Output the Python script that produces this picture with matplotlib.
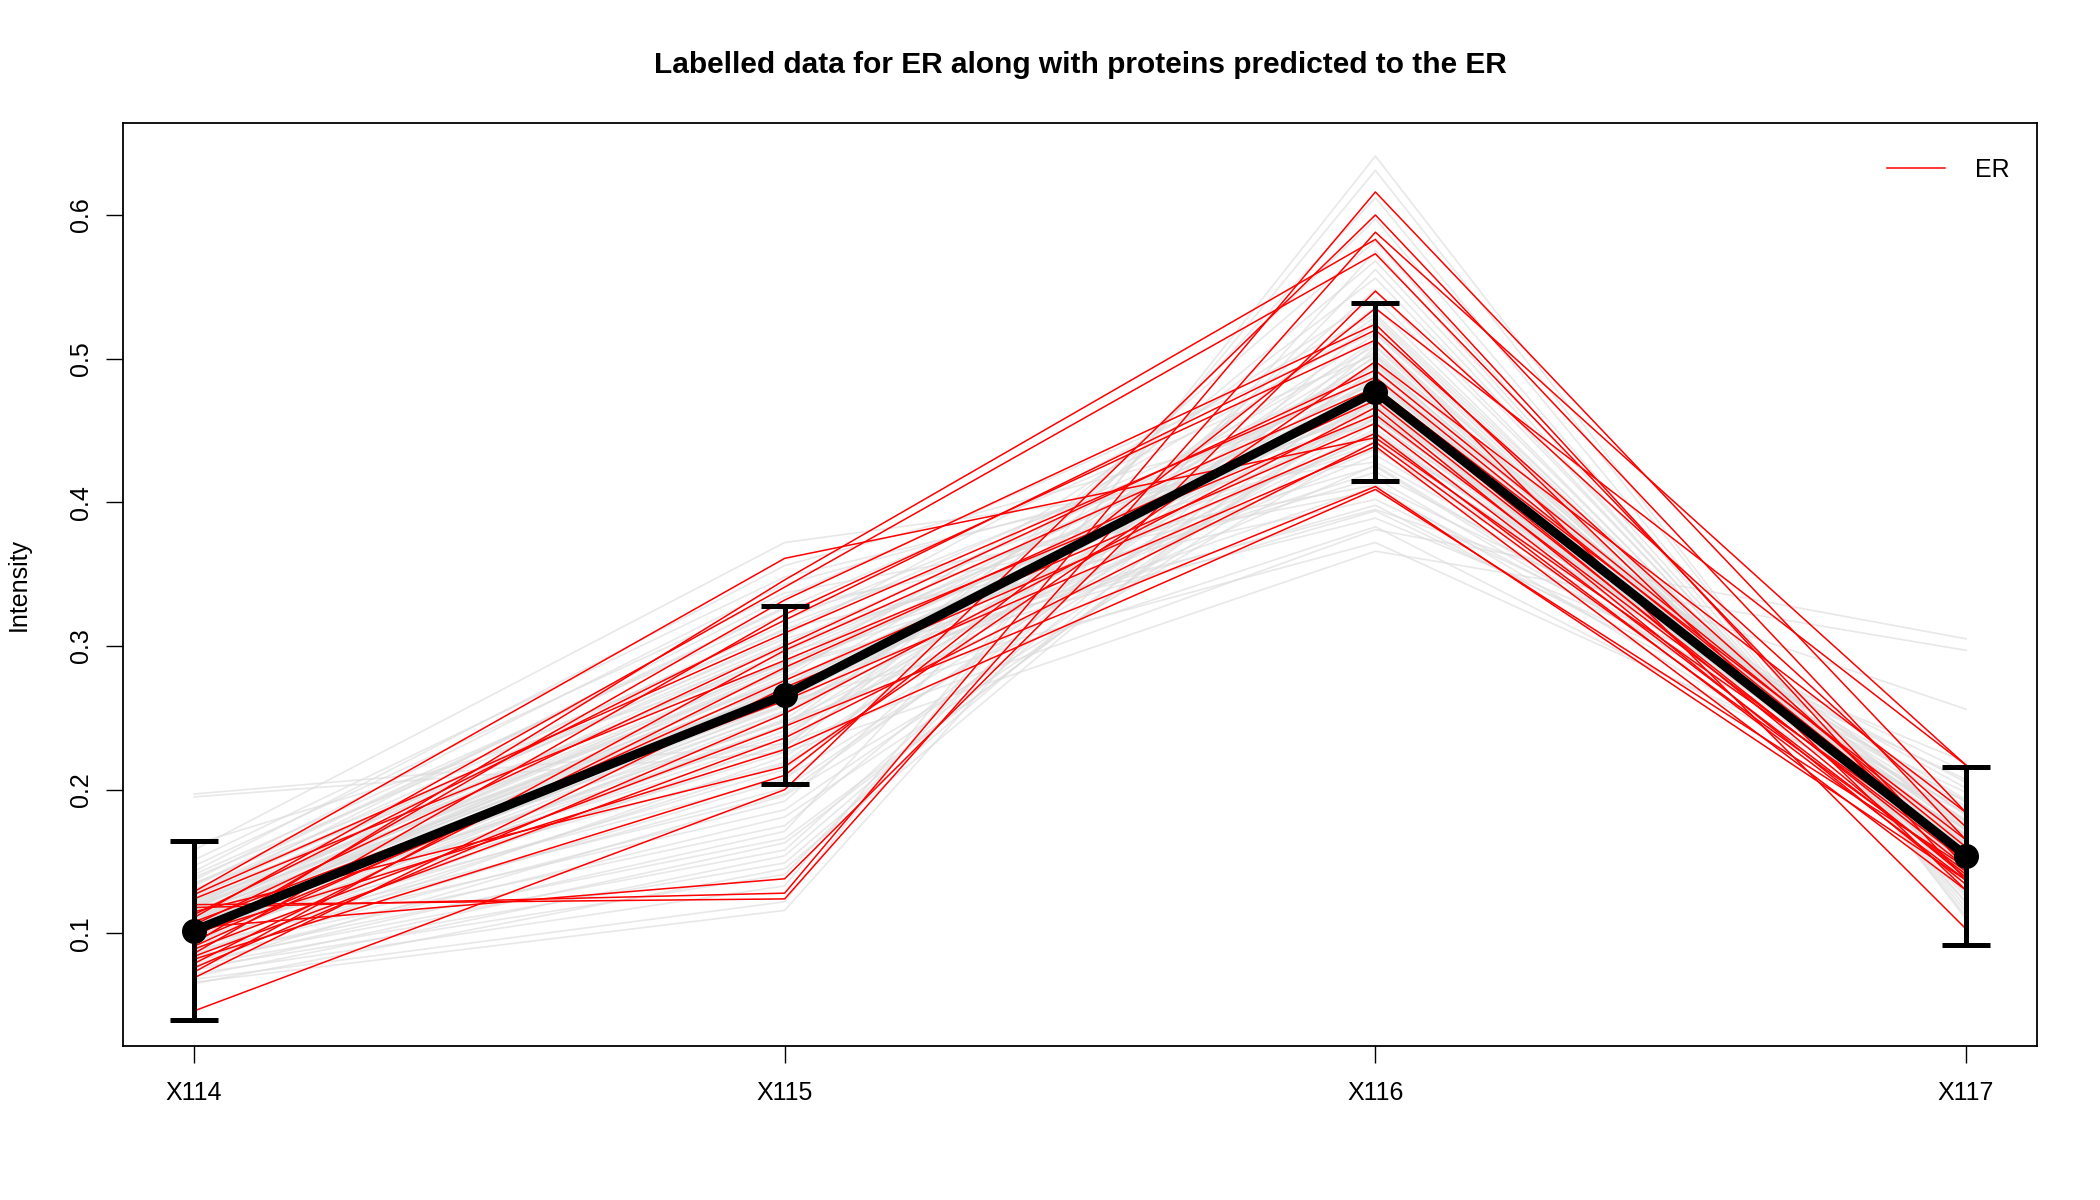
import numpy as np
import matplotlib.pyplot as plt

plt.rcParams['font.family'] = ['Liberation Sans', 'DejaVu Sans']

channels = ["X114", "X115", "X116", "X117"]

# proteins predicted to the ER (grey), one entry per protein and channel
grey_114 = [0.197, 0.195, 0.162, 0.158, 0.151, 0.147, 0.143, 0.141, 0.139, 0.137,
            0.135, 0.133, 0.131, 0.130, 0.128, 0.127, 0.126, 0.124, 0.123, 0.122,
            0.121, 0.120, 0.119, 0.118, 0.117, 0.116, 0.115, 0.114, 0.113, 0.112,
            0.111, 0.110, 0.109, 0.108, 0.107, 0.106, 0.105, 0.104, 0.103, 0.102,
            0.101, 0.100, 0.099, 0.098, 0.097, 0.096, 0.095, 0.094, 0.093, 0.092,
            0.091, 0.090, 0.089, 0.088, 0.087, 0.086, 0.085, 0.084, 0.083, 0.082,
            0.081, 0.080, 0.079, 0.078, 0.077, 0.076, 0.074, 0.072, 0.070, 0.068,
            0.066, 0.065, 0.118, 0.125, 0.109, 0.134, 0.112, 0.121, 0.103, 0.129,
            0.106, 0.114, 0.110, 0.104, 0.116, 0.099, 0.108, 0.113, 0.101, 0.119,
            0.097, 0.111]
grey_115 = [0.232, 0.226, 0.287, 0.372, 0.348, 0.337, 0.356, 0.322, 0.311, 0.343,
            0.298, 0.326, 0.289, 0.315, 0.302, 0.276, 0.334, 0.293, 0.268, 0.307,
            0.281, 0.259, 0.318, 0.272, 0.296, 0.247, 0.284, 0.263, 0.301, 0.238,
            0.277, 0.254, 0.289, 0.231, 0.266, 0.244, 0.283, 0.219, 0.258, 0.236,
            0.271, 0.208, 0.249, 0.226, 0.262, 0.197, 0.241, 0.214, 0.253, 0.186,
            0.229, 0.201, 0.245, 0.175, 0.218, 0.192, 0.233, 0.166, 0.207, 0.181,
            0.158, 0.223, 0.171, 0.149, 0.196, 0.141, 0.163, 0.133, 0.154, 0.122,
            0.116, 0.145, 0.286, 0.312, 0.274, 0.327, 0.261, 0.295, 0.248, 0.305,
            0.279, 0.269, 0.268, 0.262, 0.276, 0.255, 0.271, 0.283, 0.259, 0.288,
            0.244, 0.273]
grey_116 = [0.381, 0.366, 0.395, 0.428, 0.446, 0.412, 0.468, 0.437, 0.492, 0.455,
            0.476, 0.503, 0.421, 0.463, 0.487, 0.445, 0.518, 0.472, 0.458, 0.531,
            0.496, 0.433, 0.482, 0.509, 0.466, 0.451, 0.523, 0.478, 0.441, 0.497,
            0.542, 0.462, 0.488, 0.513, 0.449, 0.556, 0.471, 0.502, 0.437, 0.529,
            0.484, 0.459, 0.517, 0.568, 0.474, 0.493, 0.448, 0.536, 0.505, 0.467,
            0.582, 0.479, 0.426, 0.512, 0.463, 0.548, 0.491, 0.472, 0.597, 0.456,
            0.527, 0.485, 0.612, 0.498, 0.443, 0.562, 0.476, 0.631, 0.508, 0.641,
            0.575, 0.489, 0.389, 0.402, 0.394, 0.408, 0.372, 0.417, 0.383, 0.425,
            0.398, 0.411, 0.470, 0.486, 0.461, 0.495, 0.477, 0.468, 0.481, 0.459,
            0.501, 0.474]
grey_117 = [0.305, 0.297, 0.256, 0.201, 0.186, 0.212, 0.171, 0.193, 0.163, 0.178,
            0.182, 0.157, 0.205, 0.168, 0.172, 0.188, 0.149, 0.161, 0.176, 0.142,
            0.155, 0.191, 0.166, 0.151, 0.159, 0.174, 0.139, 0.162, 0.183, 0.148,
            0.136, 0.167, 0.153, 0.144, 0.172, 0.131, 0.158, 0.147, 0.179, 0.138,
            0.152, 0.165, 0.141, 0.127, 0.156, 0.149, 0.169, 0.133, 0.143, 0.158,
            0.122, 0.151, 0.176, 0.139, 0.161, 0.128, 0.146, 0.154, 0.118, 0.163,
            0.134, 0.148, 0.115, 0.141, 0.168, 0.125, 0.152, 0.112, 0.137, 0.110,
            0.121, 0.144, 0.219, 0.207, 0.198, 0.192, 0.184, 0.178, 0.173, 0.169,
            0.186, 0.163, 0.152, 0.148, 0.157, 0.145, 0.150, 0.155, 0.146, 0.160,
            0.143, 0.153]

# labelled ER markers (red)
er_114 = [0.120, 0.118, 0.104, 0.046, 0.129, 0.093, 0.111, 0.097, 0.086, 0.127,
          0.073, 0.079, 0.069, 0.108, 0.089, 0.100, 0.115, 0.082, 0.124, 0.091,
          0.106, 0.076, 0.113, 0.084, 0.095]
er_115 = [0.124, 0.128, 0.138, 0.200, 0.361, 0.346, 0.341, 0.332, 0.322, 0.309,
          0.297, 0.285, 0.271, 0.262, 0.244, 0.228, 0.216, 0.210, 0.290, 0.276,
          0.300, 0.253, 0.318, 0.236, 0.268]
er_116 = [0.588, 0.616, 0.547, 0.600, 0.445, 0.583, 0.573, 0.524, 0.513, 0.487,
          0.480, 0.471, 0.448, 0.439, 0.411, 0.409, 0.498, 0.535, 0.461, 0.455,
          0.492, 0.466, 0.520, 0.442, 0.476]
er_117 = [0.217, 0.184, 0.174, 0.165, 0.156, 0.137, 0.146, 0.130, 0.103, 0.156,
          0.165, 0.146, 0.137, 0.130, 0.137, 0.146, 0.184, 0.217, 0.150, 0.141,
          0.160, 0.134, 0.152, 0.143, 0.139]

# mean profile of the ER markers and its spread
er_mean = [0.102, 0.266, 0.477, 0.154]
er_sd = [0.062, 0.062, 0.062, 0.062]

x = np.arange(1, len(channels) + 1)
grey = np.column_stack([grey_114, grey_115, grey_116, grey_117])
er = np.column_stack([er_114, er_115, er_116, er_117])

fig = plt.figure(figsize=(21, 12), dpi=100)
ax = fig.add_axes([0.0586, 0.1283, 0.9114, 0.7692])

for row in grey:
    ax.plot(x, row, color='#dcdcdc', lw=1.2, alpha=0.65)
for row in er:
    ax.plot(x, row, color='#ff0000', lw=1.1)

ax.plot(x, er_mean, color='black', lw=6.5, solid_capstyle='butt')
ax.errorbar(x, er_mean, yerr=er_sd, fmt='o', color='black', ms=17,
            elinewidth=3.6, capsize=17, capthick=3.6)

ax.plot([], [], color='#ff0000', lw=1.1, label='ER')
ax.legend(loc='upper right', bbox_to_anchor=(1.0, 0.992), frameon=False,
          fontsize=18, handlelength=2.3, handletextpad=1.2,
          borderaxespad=0.6, borderpad=0.5)

ax.set_xlim(0.88, 4.12)
ax.set_ylim(0.0216, 0.6640)
ax.set_xticks(x)
ax.set_xticklabels(channels)
ax.set_yticks([0.1, 0.2, 0.3, 0.4, 0.5, 0.6])
ax.set_yticklabels(['0.1', '0.2', '0.3', '0.4', '0.5', '0.6'], rotation=90,
                   va='center')
ax.tick_params(axis='both', labelsize=18, length=12, width=1, direction='out')
ax.tick_params(axis='x', pad=13)
ax.tick_params(axis='y', pad=10)
for s in ax.spines.values():
    s.set_linewidth(1.3)

ax.set_ylabel('Intensity', fontsize=18, labelpad=27)
ax.set_title('Labelled data for ER along with proteins predicted to the ER',
             fontsize=21.5, fontweight='bold', pad=36)

fig.savefig('out.png', dpi=100)
